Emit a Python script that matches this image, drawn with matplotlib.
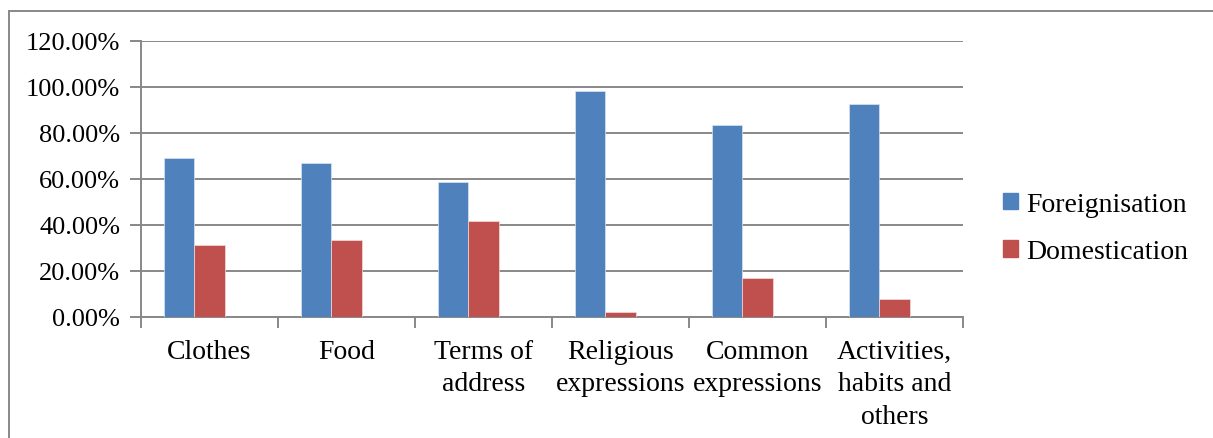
import numpy as np
import matplotlib
matplotlib.use('Agg')
import matplotlib.pyplot as plt
from matplotlib.patches import Rectangle, Patch
from matplotlib.ticker import FixedLocator, NullFormatter

categories = ["Clothes", "Food", "Terms of\naddress", "Religious\nexpressions",
              "Common\nexpressions", "Activities,\nhabits and\nothers"]
foreignisation = [68.75, 66.67, 58.33, 97.92, 83.33, 92.59]
domestication = [31.25, 33.33, 41.67, 2.08, 16.67, 7.41]
series_names = ["Foreignisation", "Domestication"]
y_ticks = [0, 20, 40, 60, 80, 100, 120]

blue = "#4F81BD"
red = "#C0504D"
grey = "#888888"

plt.rcParams['font.family'] = ['Liberation Serif', 'DejaVu Serif']
fs = 19

fig = plt.figure(figsize=(12.13, 4.39), dpi=100)
ax = fig.add_axes([141 / 1213, 1 - 317.5 / 439, 822 / 1213, 275.8 / 439])

x = np.arange(len(categories))
w = 1 / 4.5  # three slots per category, gap 150%
ax.bar(x - w, foreignisation, width=w, color=blue, edgecolor="#dbe5f1", linewidth=0.5, zorder=3)
ax.bar(x, domestication, width=w, color=red, edgecolor="#f2dcdb", linewidth=0.5, zorder=3)

ax.set_xlim(-0.5, len(categories) - 0.5)
ax.set_ylim(0, 120)
ax.set_yticks(y_ticks)
ax.set_yticklabels([f"{v:.2f}%" for v in y_ticks], fontsize=fs)
ax.yaxis.grid(True, color=grey, linewidth=1.4, zorder=0)

ax.set_xticks(x)
ax.set_xticklabels(categories, fontsize=20, linespacing=1.4, va="top")
ax.xaxis.set_minor_locator(FixedLocator(np.arange(-0.5, len(categories), 1.0)))
ax.xaxis.set_minor_formatter(NullFormatter())
ax.tick_params(axis="x", which="major", length=0, pad=16)
ax.tick_params(axis="x", which="minor", length=8, width=1.4, color=grey)
ax.tick_params(axis="y", length=8, width=1.4, color=grey, pad=7)

for side in ["top", "right"]:
    ax.spines[side].set_visible(False)
for side in ["left", "bottom"]:
    ax.spines[side].set_color(grey)
    ax.spines[side].set_linewidth(1.4)

handles = [Patch(color=blue), Patch(color=red)]
fig.legend(handles, series_names, loc="center left", bbox_to_anchor=(978 / 1213, 1 - 229 / 439),
           frameon=False, fontsize=20, handlelength=0.55, handleheight=0.55,
           handletextpad=0.3, labelspacing=0.8)

# outer chart border
fig.add_artist(Rectangle((9 / 1213, -0.2), 1.2, 0.2 + 1 - 12 / 439, transform=fig.transFigure,
                         fill=False, edgecolor=grey, linewidth=1.4))

fig.savefig("out.png", dpi=100)
